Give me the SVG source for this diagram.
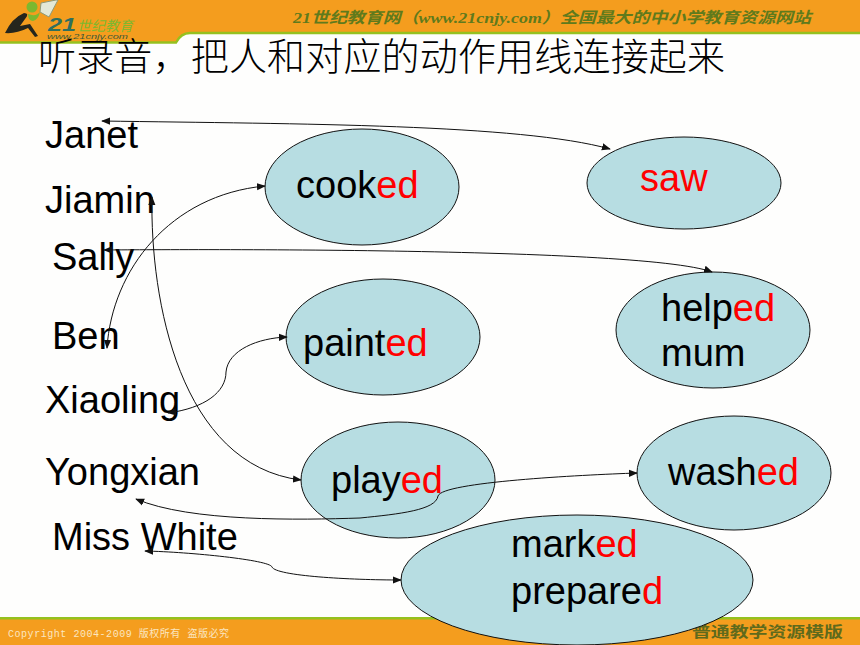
<svg xmlns="http://www.w3.org/2000/svg" width="860" height="645" viewBox="0 0 860 645">
<style>
.t{font-family:"Liberation Sans",Arial,sans-serif;font-size:38px;fill:#000}
.r{fill:#f00}
.e{fill:#b7dde2;stroke:#111;stroke-width:1}
.c{fill:none;stroke:#111;stroke-width:1;marker-start:url(#a);marker-end:url(#a)}
.h{font-family:"Liberation Serif","Noto Sans CJK SC",serif;font-size:15.5px;font-style:italic;font-weight:bold;fill:#5f7a1c}
</style>
<defs>
<marker id="a" viewBox="0 0 10 10" refX="9" refY="5" markerUnits="userSpaceOnUse" markerWidth="9" markerHeight="9" orient="auto-start-reverse"><path d="M0 1L10 5L0 9Z" fill="#111"/></marker>
</defs>
<rect width="860" height="645" fill="#fefefd"/>
<g id="header">
<path d="M0 0H860V33H190Q181 33 177 42H0Z" fill="#f49d1e"/>
<path d="M0 42.500H176Q181 33 190 33H860" fill="none" stroke="#95c11f" stroke-width="2.500"/>
<path d="M41 3L56 0H58L49 17L40 12Z" fill="#e3e9d6" stroke="#8e9a78" stroke-width="1"/>
<circle cx="32" cy="7" r="5.500" fill="#7cb82f"/>
<path d="M28 14Q36 17 40 12Q38 20 33 21Q28 21 28 14Z" fill="#7cb82f"/>
<path d="M5 33Q12 18 24 13Q30 13 25 19L20 26L30 24L38 36L35 37L28 28Q16 34 5 33Z" fill="#26261d"/>
<text x="48" y="31" font-family="'Liberation Sans',sans-serif" font-size="19" font-weight="bold" font-style="italic" fill="#2f6f5e" textLength="28" lengthAdjust="spacingAndGlyphs">21</text>
<text x="77" y="31" font-family="'Noto Sans CJK SC',sans-serif" font-size="14" font-style="italic" fill="#7cb82f" textLength="56" lengthAdjust="spacingAndGlyphs">世纪教育</text>
<text x="47" y="39" font-family="'Liberation Sans',sans-serif" font-size="7" font-style="italic" fill="#3b5a3a" textLength="81" lengthAdjust="spacingAndGlyphs">www.21cnjy.com</text>
<text class="h" x="293" y="23" textLength="518" lengthAdjust="spacingAndGlyphs">21世纪教育网（www.21cnjy.com）全国最大的中小学教育资源网站</text>
</g>
<g id="footer">
<rect y="619" width="860" height="26" fill="#f49d1e"/>
<rect y="617" width="860" height="2.500" fill="#95c11f"/>
<text x="8" y="637" font-family="'Liberation Mono','Noto Sans CJK SC',monospace" font-size="10" fill="#fbe6c0" textLength="221">Copyright 2004-2009 版权所有 盗版必究</text>
<text x="692" y="637" font-family="'Noto Sans CJK SC',sans-serif" font-size="15" font-weight="bold" fill="#5f6a1c" textLength="151" lengthAdjust="spacingAndGlyphs">普通教学资源模版</text>
</g>
<text id="title" x="38" y="70" font-family="'Noto Sans CJK SC',sans-serif" font-size="38" font-weight="300" fill="#000" textLength="687">听录音，把人和对应的动作用线连接起来</text>
<g id="names">
<text class="t" x="45" y="148">Janet</text>
<text class="t" x="45" y="213">Jiamin</text>
<text class="t" x="52" y="270">Sally</text>
<text class="t" x="52" y="349">Ben</text>
<text class="t" x="45" y="413">Xiaoling</text>
<text class="t" x="45" y="485">Yongxian</text>
<text class="t" x="52" y="550">Miss White</text>
</g>
<g id="node-cooked"><ellipse class="e" cx="362" cy="187" rx="97" ry="58"/><text class="t" x="296" y="198">cook<tspan class="r">ed</tspan></text></g>
<g id="node-saw"><ellipse class="e" cx="684" cy="183" rx="97" ry="46"/><text class="t r" x="640" y="191">saw</text></g>
<g id="node-helped"><ellipse class="e" cx="713" cy="330" rx="97" ry="58"/><text class="t" x="661" y="321">help<tspan class="r">ed</tspan></text><text class="t" x="661" y="366">mum</text></g>
<g id="node-painted"><ellipse class="e" cx="383" cy="337" rx="97" ry="58"/><text class="t" x="303" y="356">paint<tspan class="r">ed</tspan></text></g>
<g id="node-played"><ellipse class="e" cx="398" cy="480" rx="97" ry="58"/><text class="t" x="331" y="493">play<tspan class="r">ed</tspan></text></g>
<g id="node-washed"><ellipse class="e" cx="734" cy="473" rx="97" ry="57"/><text class="t" x="668" y="485">wash<tspan class="r">ed</tspan></text></g>
<g id="node-marked"><ellipse class="e" cx="577" cy="580" rx="176" ry="65"/><text class="t" x="511" y="557">mark<tspan class="r">ed</tspan></text><text class="t" x="511" y="604">prepare<tspan class="r">d</tspan></text></g>
<g id="connectors">
<path class="c" d="M102 121C300 124 520 124 610 149"/>
<path class="c" d="M107 348C112 270 170 195 265 186"/>
<path class="c" d="M152 197C150 300 180 465 301 480"/>
<path class="c" d="M104 250C104 250 640 245 712 272"/>
<path class="c" d="M168 413C205 408 226 392 226 372C228 350 258 338 287 337"/>
<path class="c" d="M136 499C190 522 300 520 360 518C400 514 436 510 438 496C442 482 580 475 637 473"/>
<path class="c" d="M145 551C190 552 270 560 272 567C276 576 350 580 401 580"/>
</g>
</svg>
